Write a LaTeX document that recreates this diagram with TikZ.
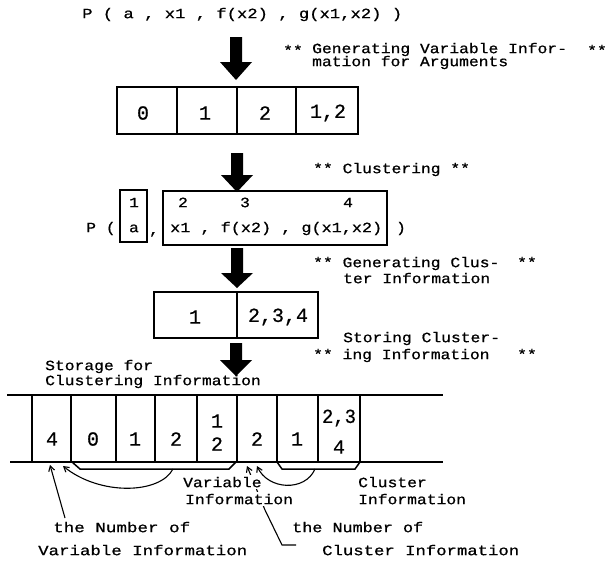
\documentclass[tikz,border=0pt]{standalone}
\usepackage{fontspec}
\setmonofont[FakeStretch=1.15,FakeBold=0.8]{Liberation Mono}
\newfontfamily\digitfont[FakeBold=0.6]{Liberation Mono}
\usetikzlibrary{arrows.meta}
\newcommand{\fitw}[2]{\resizebox{#1}{\height}{#2}}
\newcommand{\mydownarrow}[4]{%
  \fill ({#1-6},#2) -- ({#1+6},#2) -- ({#1+6},#3) -- ({#1+16},#3) -- (#1,#4) -- ({#1-16},#3) -- ({#1-6},#3) -- cycle;}
\begin{document}
\begin{tikzpicture}[x=1pt,y=-1pt,
  txt/.style={font=\ttfamily\fontsize{14.2}{16}\selectfont, inner sep=0pt, anchor=mid west},
  ctxt/.style={font=\ttfamily\fontsize{14.2}{16}\selectfont, inner sep=0pt, anchor=mid},
  dig/.style={font=\digitfont\fontsize{20}{22}\selectfont, inner sep=0pt, anchor=center},
  boxline/.style={line width=1.5pt},
  cellline/.style={line width=1.1pt},
  heavy/.style={line width=2.4pt},
  pointer/.style={line width=1.1pt, -{Straight Barb[length=5pt,width=6pt]}}
]
\useasboundingbox (0,0) rectangle (612,563);

% ---- top expression
\node[txt] (expr) at (82,16) {\fitw{320pt}{P ( a , x1 , f(x2) , g(x1,x2) )}};
\mydownarrow{236}{37}{62}{80}
\node[txt] (s1a) at (283,53) {**};
\node[txt] (s1b) at (312,51) {Generating Variable Infor-};
\node[txt] (s1c) at (587,53) {**};
\node[txt] (s1d) at (312,64) {mation for Arguments};

% ---- row 1 boxes
\draw[boxline] (117,87) rectangle (358,134);
\draw[cellline] (177,87) -- (177,134) (237,87) -- (237,134) (296,87) -- (296,134);
\node[dig] (v0) at (143,113) {0};
\node[dig] (v1) at (205,113) {1};
\node[dig] (v2) at (265,113) {2};
\node[dig] (v3) at (328,113) {1,2};

% ---- clustering
\mydownarrow{237}{153}{175}{192}
\node[txt] (s2) at (313,171) {** Clustering **};
\node[txt] (P2) at (86,230) {P (};
\draw[boxline] (120,190) rectangle (147,242);
\node[ctxt] (c1) at (134,205) {1};
\node[ctxt] (ca) at (134,230) {a};
\node[ctxt] (comma) at (154,232) {,};
\draw[boxline] (163,191) rectangle (387,245);
\node[ctxt] (c2) at (183,205) {2};
\node[ctxt] (c3) at (245,205) {3};
\node[ctxt] (c4) at (348,205) {4};
\node[txt] (args) at (170,230) {\fitw{212pt}{x1 , f(x2) , g(x1,x2)}};
\node[ctxt] (close) at (401,230) {)};

% ---- cluster information
\mydownarrow{237}{248}{273}{288}
\node[txt] (s3a) at (313,265) {** Generating Clus-};
\node[txt] (s3b) at (517,265) {**};
\node[txt] (s3c) at (343,281) {ter Information};
\draw[boxline] (154,292) rectangle (318,338);
\draw[cellline] (237,292) -- (237,338);
\node[dig] (k1) at (195,317) {1};
\node[dig] (k2) at (278,317) {2,3,4};

% ---- storing
\mydownarrow{236}{343}{360}{376}
\node[txt] (s4a) at (343,340) {Storing Cluster-};
\node[txt] (s4b) at (313,357) {** ing Information};
\node[txt] (s4c) at (517,357) {**};
\node[txt] (st1) at (45,368) {Storage for};
\node[txt] (st2) at (45,383) {Clustering Information};

% ---- storage strip
\draw[boxline] (7,395) -- (443,395);
\draw[boxline] (10,462) -- (443,462);
\foreach \x in {116,155,197,318} \draw[cellline] (\x,395) -- (\x,462);
\foreach \x in {32,71,237,277,360} \draw[heavy] (\x,395) -- (\x,462);
\node[dig] (m1) at (52,439) {4};
\node[dig] (m2) at (93,439) {0};
\node[dig] (m3) at (135,439) {1};
\node[dig] (m4) at (176,439) {2};
\node[dig] (m5a) at (217,421) {1};
\node[dig] (m5b) at (217,444) {2};
\node[dig] (m6) at (257,439) {2};
\node[dig] (m7) at (297,439) {1};
\node[dig] (m8a) at (339,418) {\resizebox{34pt}{\height}{2,3}};
\node[dig] (m8b) at (339,447) {4};

% ---- brackets under the strip
\draw[boxline] (72,462) -- (80,469) -- (229,469) -- (236,462);
\draw[boxline] (277,462) -- (282,469) -- (355,469) -- (360,462);
\coordinate (vb) at (173,469);
\coordinate (cb) at (315,469);
\coordinate (tipV) at (63,466);
\coordinate (tipC) at (257,466);
\coordinate (tipN) at (50,465);
\coordinate (tipK) at (247,466);

% pointer from the number of cluster information (drawn under the labels)
\coordinate (hookA) at (296,545);
\coordinate (hookB) at (282,545);
\coordinate (hookC) at (265,510);
\draw[pointer] (hookA) -- (hookB) -- (hookC) -- (tipK);

\node[txt, fill=white, inner ysep=1.5pt] (vi1) at (183,485) {Variable};
\node[txt, fill=white, inner ysep=1.5pt] (vi2) at (185,502) {Information};
\node[txt] (ci1) at (358,485) {Cluster};
\node[txt] (ci2) at (358,502) {Information};

\draw[pointer] (vb) .. controls (160,494) and (100,496) .. (tipV);
\draw[pointer] (cb) .. controls (305,492) and (268,490) .. (tipC);

\node[txt] (n1a) at (53,530) {\fitw{137pt}{the Number of}};
\node[txt] (n1b) at (38,553) {\fitw{209pt}{Variable Information}};
\node[txt] (n2a) at (292,530) {\fitw{131pt}{the Number of}};
\node[txt] (n2b) at (322,553) {\fitw{197pt}{Cluster Information}};
\coordinate (nstart) at (65,518);
\draw[pointer] (nstart) -- (tipN);
\end{tikzpicture}
\end{document}
